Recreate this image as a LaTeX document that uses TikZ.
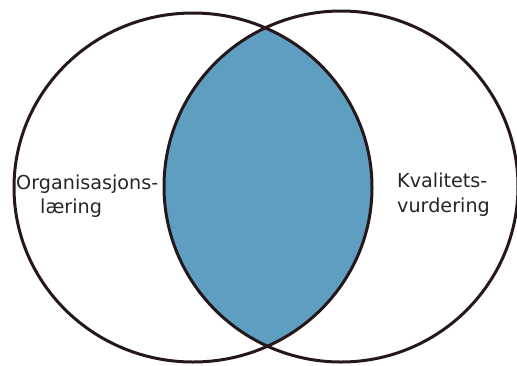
\documentclass[tikz,border=0pt]{standalone}
\usepackage{fontspec}
\setmainfont{DejaVu Sans}
\definecolor{lensblue}{RGB}{93,158,193}
\definecolor{rimdark}{RGB}{38,24,26}
\tikzset{
  rim/.style={draw=rimdark, line width=3pt},
  label/.style={anchor=base west, inner sep=0pt, font=\fontsize{19.2}{23}\selectfont, text=black!85}
}
\begin{document}
\begin{tikzpicture}[x=1pt,y=-1pt]
  \useasboundingbox (0,0) rectangle (517,365);
  \coordinate (cl) at (193,187.5);
  \coordinate (cr) at (341,186.5);
  % shared region
  \begin{scope}
    \clip (cl) ellipse [x radius=179pt, y radius=174.5pt];
    \fill[lensblue] (cr) ellipse [x radius=177pt, y radius=175.5pt];
  \end{scope}
  % outlines
  \draw[rim] (cl) ellipse [x radius=179pt, y radius=174.5pt];
  \draw[rim] (cr) ellipse [x radius=177pt, y radius=175.5pt];
  % labels
  \node[label] (l1) at (16,189) {Organisasjons-};
  \node[label] (l2) at (40,213) {læring};
  \node[label] (r1) at (397,187) {Kvalitets-};
  \node[label] (r2) at (397,212) {vurdering};
\end{tikzpicture}
\end{document}
